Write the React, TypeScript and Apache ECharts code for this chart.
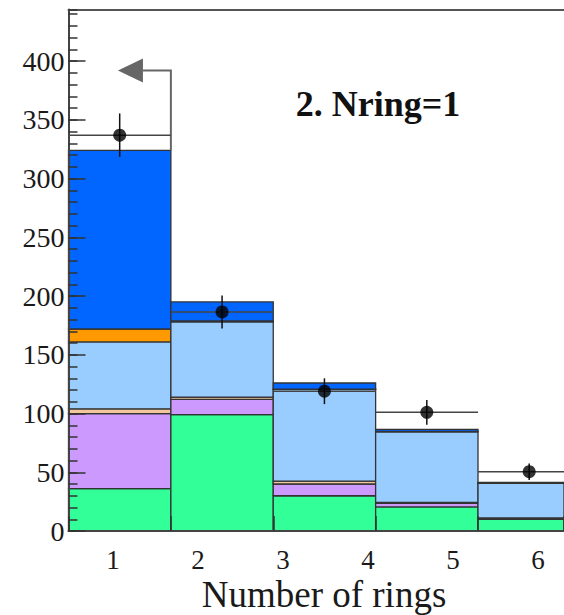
import React, { useEffect, useRef } from "react";
import * as echarts from "echarts";

// ---- data ----
const BIN_EDGES = [0, 1, 2, 3, 4, 5];
const X_MAX = 4.84;
const Y_MAX = 444;
const GREEN = [36, 99, 30, 20.5, 10];
const PURPLE = [64, 13, 10, 3, 0.8];
const TAN = [4, 2, 2.5, 0.8, 0.3];
const LIGHTBLUE = [57, 64, 78, 60.2, 29.5];
const ORANGE = [11, 0.8, 0.3, 0.3, 0.2];
const BLUE = [152, 16.2, 5.2, 1.7, 0.5];
const DATA = [337, 186.5, 119, 101, 50.5];
const ERR = [18.5, 14, 11, 10.5, 7];
const X_LABELS = [1, 2, 3, 4, 5, 6];
const Y_LABELS = [0, 50, 100, 150, 200, 250, 300, 350, 400];
// arrow: from top of first bin edge up, then left
const ARROW_X = 1.0;
const ARROW_Y_FROM = 324;
const ARROW_Y = 392;
const ARROW_HEAD_BASE = 0.727;
const ARROW_TIP = 0.483;

const STACK = [
  { values: GREEN, color: "#33FF99" },
  { values: PURPLE, color: "#CC99FF" },
  { values: TAN, color: "#F2C79E" },
  { values: LIGHTBLUE, color: "#99CCFF" },
  { values: ORANGE, color: "#FF9900" },
  { values: BLUE, color: "#0066FF" },
];

const FONT = "Liberation Serif";

export default function App() {
  const ref = useRef<HTMLDivElement>(null);
  useEffect(() => {
    if (!ref.current) return;
    const chart = echarts.init(ref.current, undefined, { renderer: "svg" });
    const axisColor = "#444";
    const option: any = {
      animation: false,
      backgroundColor: "#fff",
      grid: { left: 68.5, top: 9.5, right: 0, bottom: 84, containLabel: false },
      xAxis: [
        {
          type: "value",
          min: 0,
          max: X_MAX,
          interval: 1,
          position: "bottom",
          z: 10,
          axisLine: { show: true, lineStyle: { color: axisColor, width: 2 } },
          axisTick: { show: true, inside: true, length: 15, lineStyle: { color: "#333", width: 1.5 } },
          axisLabel: { show: false },
          splitLine: { show: false },
        },
        {
          type: "value",
          min: 0.4765,
          max: 6.306,
          position: "bottom",
          z: 10,
          axisLine: { show: false },
          axisTick: { show: false },
          axisLabel: {
            show: true,
            customValues: X_LABELS,
            fontFamily: FONT,
            fontSize: 27,
            color: "#1a1a1a",
            margin: 15,
          },
          splitLine: { show: false },
        },
        {
          type: "value",
          min: 0,
          max: X_MAX,
          position: "top",
          z: 10,
          axisLine: { show: true, lineStyle: { color: "#555", width: 2 } },
          axisTick: { show: false },
          axisLabel: { show: false },
          splitLine: { show: false },
        },
      ],
      yAxis: [
        {
          type: "value",
          min: 0,
          max: Y_MAX,
          interval: 10,
          z: 10,
          axisLine: { show: true, lineStyle: { color: axisColor, width: 2 } },
          axisTick: { show: true, inside: true, length: 9, lineStyle: { color: "#333", width: 1.5 } },
          axisLabel: { show: false },
          splitLine: { show: false },
        },
        {
          type: "value",
          min: 0,
          max: Y_MAX,
          interval: 50,
          position: "left",
          z: 10,
          axisLine: { show: false },
          axisTick: {
            show: true,
            inside: true,
            length: 17,
            customValues: Y_LABELS,
            lineStyle: { color: "#333", width: 1.5 },
          },
          axisLabel: {
            show: true,
            customValues: Y_LABELS,
            fontFamily: FONT,
            fontSize: 28,
            color: "#1a1a1a",
            margin: 4,
          },
          splitLine: { show: false },
        },
      ],
      graphic: [
        {
          type: "text",
          x: 324,
          y: 594,
          style: {
            text: "Number of rings",
            font: `37px "${FONT}"`,
            fill: "#1a1a1a",
            textAlign: "center",
            textVerticalAlign: "middle",
          },
        },
        {
          type: "text",
          x: 378,
          y: 104,
          style: {
            text: "2. Nring=1",
            font: `bold 36px "${FONT}"`,
            fill: "#111",
            textAlign: "center",
            textVerticalAlign: "middle",
          },
        },
      ],
      series: [
        {
          type: "custom",
          xAxisIndex: 0,
          yAxisIndex: 0,
          z: 2,
          data: DATA.map((_, i) => [i]),
          renderItem: (params: any, api: any) => {
            const i = api.value(0);
            let base = 0;
            const children = STACK.map((s) => {
              const v = s.values[i];
              const p0 = api.coord([BIN_EDGES[i], base]);
              const p1 = api.coord([Math.min(BIN_EDGES[i + 1], X_MAX), base + v]);
              base += v;
              return {
                type: "rect",
                shape: { x: p0[0], y: p1[1], width: p1[0] - p0[0], height: p0[1] - p1[1] },
                style: { fill: s.color, stroke: "#333", lineWidth: 1.3 },
              };
            });
            return { type: "group", children };
          },
        },
        {
          type: "custom",
          xAxisIndex: 0,
          yAxisIndex: 0,
          z: 5,
          data: DATA.map((v, i) => [i, v, ERR[i]]),
          renderItem: (params: any, api: any) => {
            const i = api.value(0);
            const v = api.value(1);
            const e = api.value(2);
            const x0 = BIN_EDGES[i];
            const x1 = Math.min(BIN_EDGES[i + 1], X_MAX);
            const xc = (BIN_EDGES[i] + BIN_EDGES[i + 1]) / 2;
            const a = api.coord([x0, v]);
            const b = api.coord([x1, v]);
            const c0 = api.coord([xc, v - e]);
            const c1 = api.coord([xc, v + e]);
            return {
              type: "group",
              children: [
                {
                  type: "line",
                  shape: { x1: a[0], y1: a[1], x2: b[0], y2: b[1] },
                  style: { stroke: "#444", lineWidth: 1.5 },
                },
                {
                  type: "line",
                  shape: { x1: c0[0], y1: c0[1], x2: c1[0], y2: c1[1] },
                  style: { stroke: "#111", lineWidth: 1.5 },
                },
              ],
            };
          },
        },
        {
          type: "scatter",
          xAxisIndex: 0,
          yAxisIndex: 0,
          z: 6,
          symbol: "circle",
          symbolSize: 13,
          itemStyle: { color: "#000" },
          data: DATA.map((v, i) => [(BIN_EDGES[i] + BIN_EDGES[i + 1]) / 2, v]),
        },
        {
          type: "custom",
          xAxisIndex: 0,
          yAxisIndex: 0,
          z: 4,
          data: [[ARROW_X, ARROW_Y]],
          renderItem: (params: any, api: any) => {
            const p0 = api.coord([ARROW_X, ARROW_Y_FROM]);
            const p1 = api.coord([ARROW_X, ARROW_Y]);
            const p2 = api.coord([ARROW_HEAD_BASE, ARROW_Y]);
            const tip = api.coord([ARROW_TIP, ARROW_Y]);
            const hh = 12;
            return {
              type: "group",
              children: [
                {
                  type: "polyline",
                  shape: { points: [p0, p1, p2] },
                  style: { stroke: "#666", lineWidth: 2, fill: "none" },
                },
                {
                  type: "polygon",
                  shape: { points: [tip, [p2[0], p2[1] - hh], [p2[0], p2[1] + hh]] },
                  style: { fill: "#666" },
                },
              ],
            };
          },
        },
      ],
    };
    chart.setOption(option);
    return () => chart.dispose();
  }, []);
  return (
    <div
      ref={ref}
      style={{ position: "absolute", left: 0, top: 0, width: 564, height: 615 }}
    />
  );
}
